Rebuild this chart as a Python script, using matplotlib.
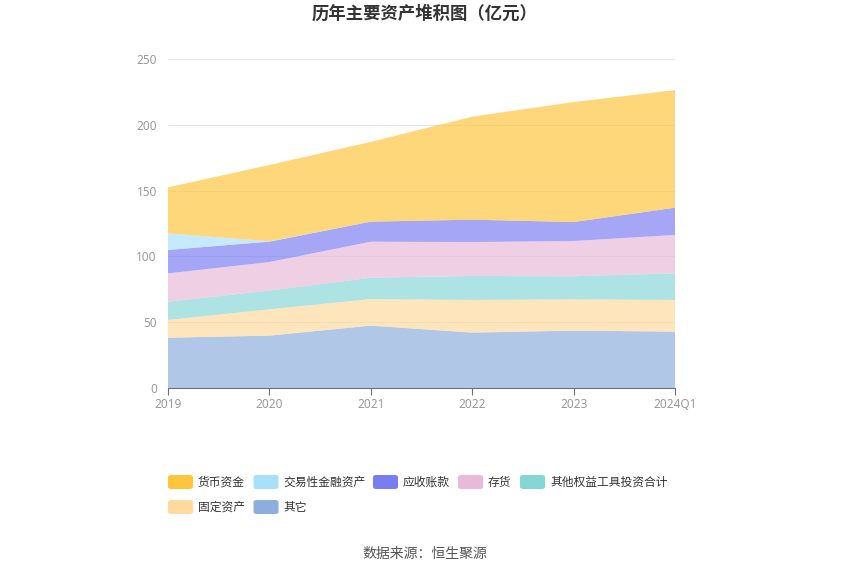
import matplotlib
matplotlib.use("Agg")
import matplotlib.pyplot as plt
from matplotlib.patches import FancyBboxPatch
import numpy as np

plt.rcParams['font.family'] = ['Noto Sans CJK SC', 'DejaVu Sans']

years = ["2019", "2020", "2021", "2022", "2023", "2024Q1"]
series_names = ["其它", "固定资产", "其他权益工具投资合计", "存货", "应收账款", "交易性金融资产", "货币资金"]
other = [38.2, 39.8, 47.4, 42.1, 43.6, 42.8]
fixed_assets = [13.5, 20.0, 20.2, 24.8, 23.8, 24.1]
other_equity = [13.9, 14.2, 16.2, 18.2, 17.5, 20.2]
inventory = [21.5, 21.7, 27.4, 25.8, 26.8, 29.2]
receivables = [17.8, 15.5, 15.2, 17.0, 14.4, 20.7]
trading_fin = [12.6, 0.3, 0.0, 0.0, 0.0, 0.0]
cash = [35.0, 58.0, 60.6, 78.3, 91.2, 89.4]

series_values = [other, fixed_assets, other_equity, inventory, receivables, trading_fin, cash]
colors = ["#8DADDC", "#FFDA9C", "#86D6D6", "#E8B9D8", "#7A7CF2", "#A8E0FA", "#FFC53D"]

legend_order = ["货币资金", "交易性金融资产", "应收账款", "存货", "其他权益工具投资合计", "固定资产", "其它"]

fig = plt.figure(figsize=(8.5, 5.75), dpi=100)
ax = fig.add_axes([168/850, 1-388/575, (675-168)/850, (388-59)/575])

x = np.arange(len(years))
ax.stackplot(x, *series_values, colors=colors, alpha=0.68, linewidth=0)

ax.set_xlim(0, len(years)-1)
ax.set_ylim(0, 250)
ax.set_yticks([0, 50, 100, 150, 200, 250])
ax.set_xticks(x)
ax.set_xticklabels(years)
ax.grid(axis='y', color='#E0E6F1', linewidth=0.8)
ax.set_axisbelow(True)
for s in ['top', 'right', 'left']:
    ax.spines[s].set_visible(False)
ax.spines['bottom'].set_color('#6E7079')
ax.tick_params(axis='y', length=0, colors='#999999', labelsize=8.5, pad=8)
ax.tick_params(axis='x', length=5, color='#6E7079', labelcolor='#999999', labelsize=8.5, pad=2)
for lbl in ax.get_xticklabels() + ax.get_yticklabels():
    lbl.set_fontfamily(['Noto Sans', 'DejaVu Sans'])

fig.text(0.5, 1-14/575, "历年主要资产堆积图（亿元）", ha='center', va='center',
         fontsize=12.5, fontweight='bold', color='#333333')

# legend
color_map = dict(zip(series_names, colors))
legend_pos = [(168, 482), (253.5, 482), (373, 482), (458, 482), (520, 482), (168, 507), (253.5, 507)]
for name, (px, py) in zip(legend_order, legend_pos):
    bw, bh = 25, 14
    patch = FancyBboxPatch((px/850, 1-(py+bh/2)/575), bw/850, bh/575,
                           boxstyle="round,pad=0,rounding_size=0.004",
                           transform=fig.transFigure, facecolor=color_map[name],
                           edgecolor='none')
    fig.patches.append(patch)
    fig.text((px+bw+5)/850, 1-(py+4)/575, name, ha='left', va='baseline', fontsize=8.5, color='#333333')

fig.text(0.5, 1-554/575, "数据来源：恒生聚源", ha='center', va='center', fontsize=10, color='#555555')

fig.savefig("out.png", dpi=100)
